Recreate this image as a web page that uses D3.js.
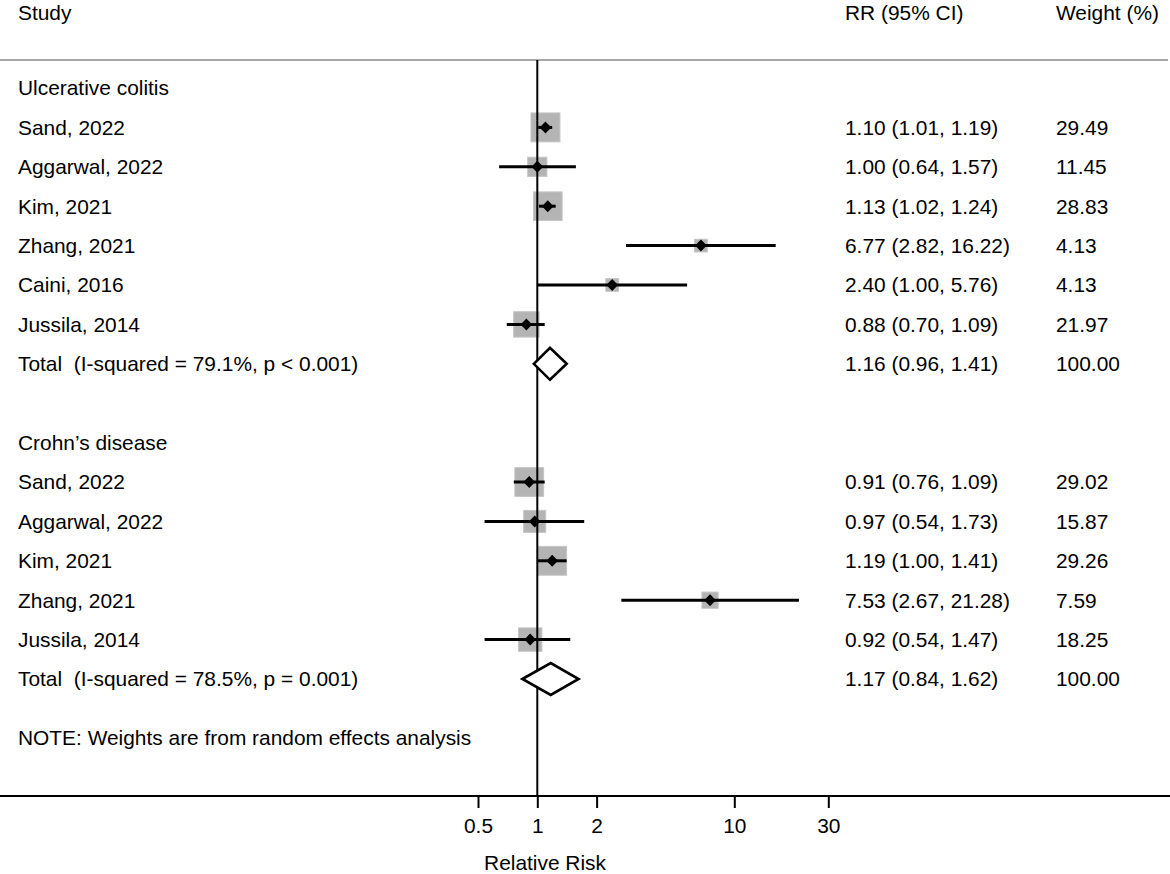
<!DOCTYPE html>
<html><head><meta charset="utf-8">
<script src="https://cdn.jsdelivr.net/npm/d3@7"></script>
<style>
html,body{margin:0;padding:0;background:#fff;}
text{font-family:"Liberation Sans",Arial,Helvetica,sans-serif;font-size:20.9px;fill:#000;white-space:pre;}
</style></head>
<body>
<svg id="chart" width="1170" height="874"></svg>
<script>
// ---- data ----
const ucStudies = ["Sand, 2022","Aggarwal, 2022","Kim, 2021","Zhang, 2021","Caini, 2016","Jussila, 2014"];
const ucRR      = [1.10, 1.00, 1.13, 6.77, 2.40, 0.88];
const ucLow     = [1.01, 0.64, 1.02, 2.82, 1.00, 0.70];
const ucHigh    = [1.19, 1.57, 1.24, 16.22, 5.76, 1.09];
const ucWeight  = ["29.49","11.45","28.83","4.13","4.13","21.97"];
const ucTotal   = {label:"Total  (I-squared = 79.1%, p < 0.001)", rr:1.16, low:0.96, high:1.41, ci:"1.16 (0.96, 1.41)", w:"100.00"};

const cdStudies = ["Sand, 2022","Aggarwal, 2022","Kim, 2021","Zhang, 2021","Jussila, 2014"];
const cdRR      = [0.91, 0.97, 1.19, 7.53, 0.92];
const cdLow     = [0.76, 0.54, 1.00, 2.67, 0.54];
const cdHigh    = [1.09, 1.73, 1.41, 21.28, 1.47];
const cdWeight  = ["29.02","15.87","29.26","7.59","18.25"];
const cdTotal   = {label:"Total  (I-squared = 78.5%, p = 0.001)", rr:1.17, low:0.84, high:1.62, ci:"1.17 (0.84, 1.62)", w:"100.00"};

const tickValues = [0.5, 1, 2, 10, 30];
const tickLabels = ["0.5", "1", "2", "10", "30"];
const groupLabels = ["Ulcerative colitis", "Crohn\u2019s disease"];
const headers = ["Study", "RR (95% CI)", "Weight (%)"];
const noteText = "NOTE: Weights are from random effects analysis";
const axisTitle = "Relative Risk";

// ---- layout ----
const W = 1170, H = 874;
const svg = d3.select("#chart");
const x = d3.scaleLog().domain([0.5, 30]).range([478, 828.3]);
const y = d3.scaleLinear().domain([0, 15]).range([88, 679]);
const box = d3.scaleSqrt().domain([0, 30]).range([3, 29.2]);
const colStudy = 18, colCI = 845, colW = 1056;
const axisY = 796;
const fmt = v => v.toFixed(2);

// build rows
const rows = [];
let idx = 0;
function addGroup(label, studies, rr, lo, hi, w, total) {
  rows.push({type:"group", label, i: idx++});
  studies.forEach((s, k) => rows.push({type:"study", label:s, rr:rr[k], low:lo[k], high:hi[k],
      ci: fmt(rr[k]) + " (" + fmt(lo[k]) + ", " + fmt(hi[k]) + ")", w:w[k], i: idx++}));
  rows.push(Object.assign({type:"total", i: idx++}, total));
}
addGroup(groupLabels[0], ucStudies, ucRR, ucLow, ucHigh, ucWeight, ucTotal);
idx++; // blank row
addGroup(groupLabels[1], cdStudies, cdRR, cdLow, cdHigh, cdWeight, cdTotal);

// header
svg.append("text").attr("x", colStudy).attr("y", 19.5).text(headers[0]);
svg.append("text").attr("x", colCI).attr("y", 19.5).text(headers[1]);
svg.append("text").attr("x", colW).attr("y", 19.5).text(headers[2]);
svg.append("line").attr("x1", 0).attr("x2", 1168).attr("y1", 60).attr("y2", 60)
  .attr("stroke", "#a8a8a8").attr("stroke-width", 2);

// squares (below lines)
const studiesRows = rows.filter(r => r.type === "study");
svg.append("g").selectAll("rect").data(studiesRows).join("rect")
  .attr("x", d => x(d.rr) - box(+d.w) / 2)
  .attr("y", d => y(d.i) - box(+d.w) / 2)
  .attr("width", d => box(+d.w)).attr("height", d => box(+d.w))
  .attr("fill", "#b4b4b4").attr("stroke", "#c6c6c6").attr("stroke-width", 1);

// reference line at 1
svg.append("line").attr("x1", x(1)).attr("x2", x(1)).attr("y1", 60).attr("y2", axisY)
  .attr("stroke", "#000").attr("stroke-width", 2);

// CI lines
svg.append("g").selectAll("line").data(studiesRows).join("line")
  .attr("x1", d => x(d.low)).attr("x2", d => x(d.high))
  .attr("y1", d => y(d.i)).attr("y2", d => y(d.i))
  .attr("stroke", "#000").attr("stroke-width", 3);

// point diamonds
svg.append("g").selectAll("path").data(studiesRows).join("path")
  .attr("d", d => {
    const cx = x(d.rr), cy = y(d.i);
    return `M${cx - 5.8},${cy}L${cx},${cy - 6}L${cx + 5.8},${cy}L${cx},${cy + 6}Z`;
  })
  .attr("fill", "#000");

// total diamonds
const totalRows = rows.filter(r => r.type === "total");
svg.append("g").selectAll("path").data(totalRows).join("path")
  .attr("d", d => {
    const cy = y(d.i);
    return `M${x(d.low)},${cy}L${x(d.rr)},${cy - 16}L${x(d.high)},${cy}L${x(d.rr)},${cy + 16}Z`;
  })
  .attr("fill", "#fff").attr("stroke", "#000").attr("stroke-width", 2.6);

// text columns
const tg = svg.append("g");
rows.forEach(r => {
  const ty = y(r.i) + 7.3;
  tg.append("text").attr("x", colStudy).attr("y", ty).attr("xml:space", "preserve").text(r.label);
  if (r.type !== "group") {
    tg.append("text").attr("x", colCI).attr("y", ty).text(r.ci);
    tg.append("text").attr("x", colW).attr("y", ty).text(r.w);
  }
});
svg.append("text").attr("x", colStudy).attr("y", y(16.5) + 7.3).text(noteText);

// axis
svg.append("line").attr("x1", 0).attr("x2", W).attr("y1", axisY).attr("y2", axisY)
  .attr("stroke", "#000").attr("stroke-width", 2);
const axis = d3.axisBottom(x).tickValues(tickValues)
  .tickFormat((d, i) => tickLabels[i]).tickSize(12).tickPadding(10);
const ag = svg.append("g").attr("transform", `translate(0,${axisY})`).call(axis);
ag.select(".domain").remove();
ag.selectAll(".tick line").attr("stroke", "#000").attr("stroke-width", 2);
ag.selectAll(".tick text").attr("font-size", null).attr("font-family", null)
  .style("font-size", "20.9px").style("font-family", "'Liberation Sans',Arial,sans-serif").attr("fill", "#000");
svg.append("text").attr("x", 545).attr("y", 870).attr("text-anchor", "middle").text(axisTitle);
</script>
</body></html>
